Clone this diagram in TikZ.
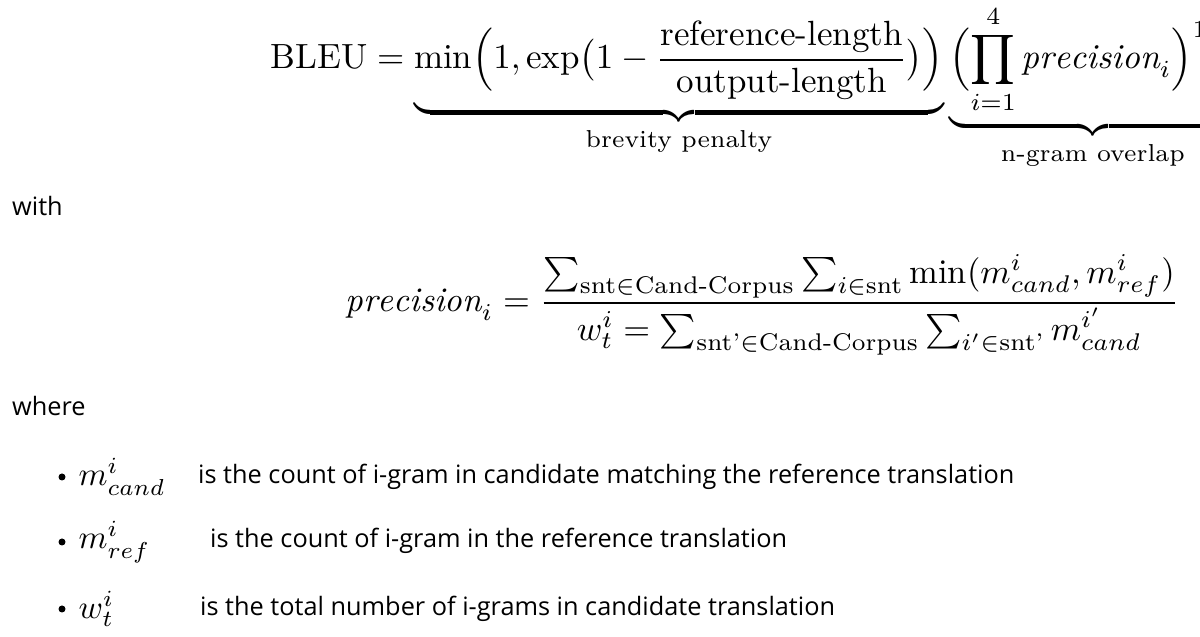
\documentclass[tikz,border=0pt]{standalone}
\usepackage{amsmath}
\usepackage{fontspec}
\newfontfamily\bodyfont{Open Sans}
\tikzset{
  prose/.style={anchor=base west, font=\bodyfont\fontsize{25.3}{30}\selectfont, inner sep=0pt},
  formula/.style={inner sep=0pt, scale=#1, transform shape},
  formula/.default=3.45,
  dot/.style={circle, fill=black, inner sep=0pt, minimum size=7pt}
}
\newcommand{\bracelabel}[1]{\text{\scriptsize #1}}
\begin{document}
\begin{tikzpicture}[x=1pt,y=1pt]
\useasboundingbox[fill=white] (0,0) rectangle (1200,637);
% main formula
\node[formula=3.5, anchor=north west] (bleu) at (270,632) {$\displaystyle
 \mathrm{BLEU} = \underbrace{\min\Bigl(1,\exp\bigl(1-\frac{\text{reference-length}}{\text{output-length}}\bigr)\Bigr)}_{\bracelabel{brevity penalty}}
 \underbrace{\Bigl(\prod_{i=1}^{4}\mathit{precision}_i\Bigr)^{1/4}}_{\bracelabel{n-gram overlap}}$};
\node[prose] (with) at (12,637-216) {with};
% precision
\node[formula, anchor=west] (prec) at (345,637-305) {$\displaystyle
 \mathit{precision}_i = \frac{\textstyle\sum_{\text{snt}\in\text{Cand-Corpus}}\sum_{i\in\text{snt}}\min(m^i_{cand},m^i_{ref})}
 {\textstyle w^i_t=\sum_{\text{snt'}\in\text{Cand-Corpus}}\sum_{i'\in\text{snt'}} m^{i'}_{cand}}$};
\node[prose] (where) at (12,637-416) {where};
% bullets
\node[dot] (b1) at (62,637-477) {};
\node[formula=3.3, anchor=west] (m1) at (78,637-477) {$m^i_{cand}$};
\node[prose] (t1) at (198,637-484) {is the count of i-gram in candidate matching the reference translation};
\node[dot] (b2) at (62,637-542) {};
\node[formula=3.3, anchor=west] (m2) at (78,637-542) {$m^i_{ref}$};
\node[prose] (t2) at (210,637-548) {is the count of i-gram in the reference translation};
\node[dot] (b3) at (62,637-609) {};
\node[formula=3.3, anchor=west] (m3) at (78,637-609) {$w^i_t$};
\node[prose] (t3) at (200,637-616) {is the total number of i-grams in candidate translation};
\end{tikzpicture}
\end{document}
